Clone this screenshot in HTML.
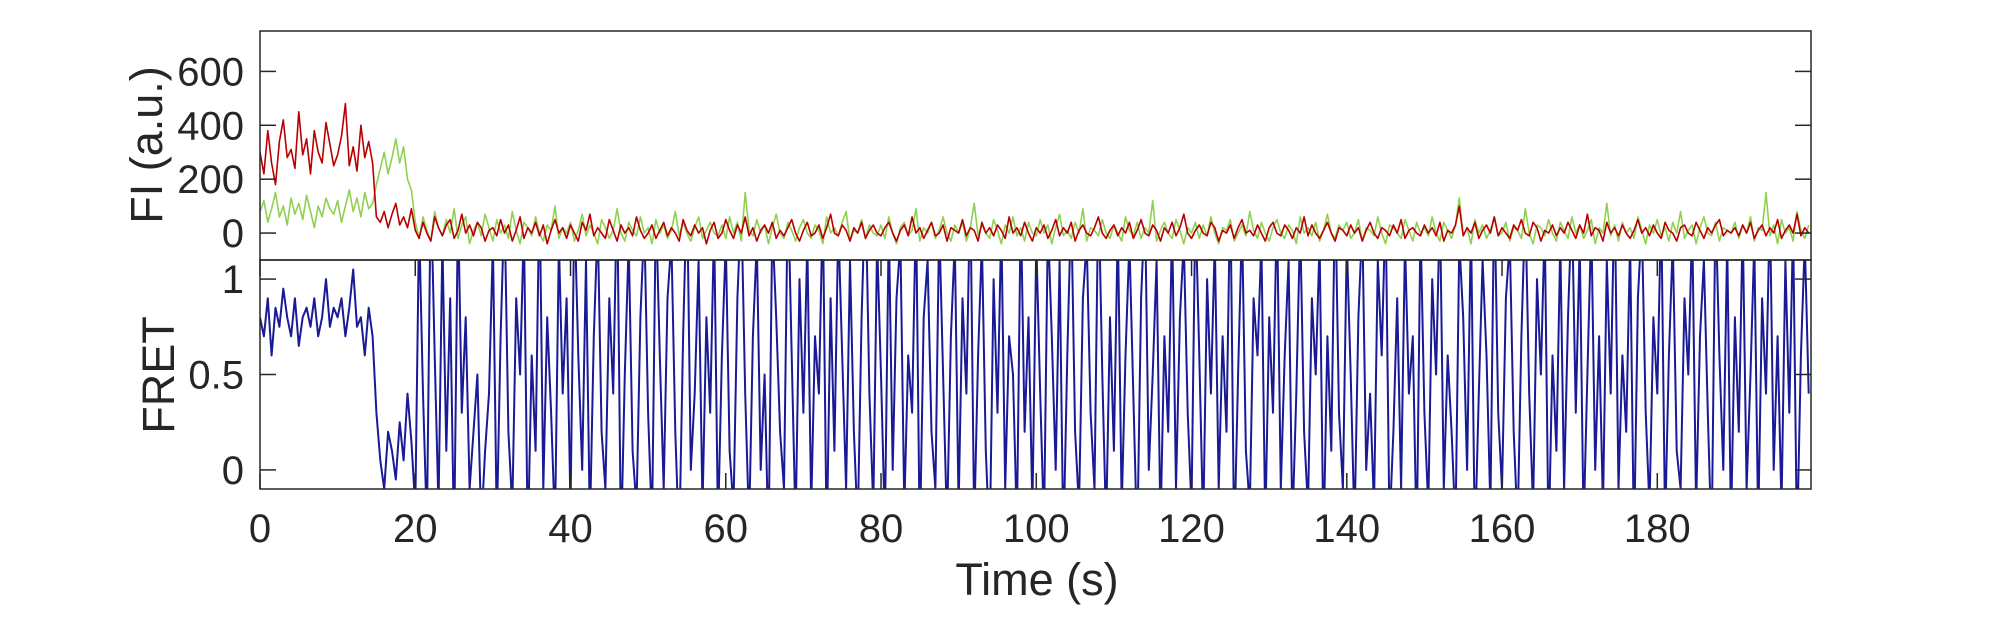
<!DOCTYPE html>
<html><head><meta charset="utf-8"><style>
html,body{margin:0;padding:0;background:#fff;}
svg{display:block;font-family:"Liberation Sans",Arial,sans-serif;}
</style></head><body>
<svg id="chart" width="2005" height="625" viewBox="0 0 2005 625" xmlns="http://www.w3.org/2000/svg">
<defs>
<clipPath id="clipTop"><rect x="260" y="31" width="1551" height="229"/></clipPath>
<clipPath id="clipBot"><rect x="260" y="260" width="1551" height="229"/></clipPath>
</defs>
<g id="marks"></g>
<g id="axes"></g>
</svg>
<script>
const dt = 0.5;
const xTicks = [0,20,40,60,80,100,120,140,160,180];
const fiTicks = [0,200,400,600];
const fretTicks = [0,0.5,1];
const fretTickLabels = ["0","0.5","1"];
const acceptor = [
300,220,380,260,180,340,420,280,310,240,450,290,350,220,380,300,260,410,330,250,
290,360,480,250,320,230,400,280,340,260,60,40,80,20,70,110,30,60,20,90,
10,-20,40,0,-30,60,20,-10,30,50,-20,10,70,0,30,-10,40,20,-30,10,
20,-10,50,0,30,-30,10,60,-20,20,0,40,-10,30,-40,10,50,0,20,-20,
30,0,-30,40,10,70,-10,20,0,-20,50,10,-30,30,0,20,-10,60,10,-20,
0,30,-20,10,40,-10,20,0,-30,50,10,-10,30,0,20,-40,10,40,-20,0,
50,10,-20,30,0,60,-10,20,-30,10,30,0,40,-20,10,-10,20,50,0,-30,
10,40,-10,0,30,-20,20,70,0,-10,30,10,-30,20,0,40,-20,10,30,0,
-10,20,40,0,-30,10,30,-10,60,0,20,-20,10,40,-10,0,30,-30,20,10,
0,50,-10,20,10,-30,40,0,20,-10,30,10,-20,60,0,20,-10,40,0,-30,
20,0,30,-20,10,50,-10,20,0,40,-30,10,30,0,-10,20,60,0,-20,10,
30,-10,20,0,40,-20,10,50,0,-10,30,10,-30,20,0,40,-10,20,70,0,
-20,10,30,0,-10,40,20,-30,10,0,30,-20,20,50,0,10,-10,30,0,-30,
20,40,0,-10,30,10,-20,20,0,60,-10,30,0,-20,10,40,0,-30,20,10,
-10,30,0,20,-30,10,40,0,-20,20,10,-10,30,0,50,-20,10,20,0,-10,
30,0,20,-10,40,-30,10,0,30,100,-10,20,0,40,-20,10,30,0,60,-10,
20,0,-20,30,10,50,0,-10,40,20,-30,10,0,30,-10,20,0,40,10,-20,
30,0,70,-10,20,10,-30,40,0,20,-10,30,0,-20,10,50,0,20,-10,30,
0,-20,40,10,0,-30,20,30,0,-10,40,10,-20,20,0,30,50,-10,10,0,
20,-10,30,0,40,-20,10,30,-10,20,0,50,-20,10,30,0,70,-10,20,0
];
const donor = [
80,120,40,90,150,60,100,30,130,70,110,50,140,80,20,100,60,130,90,70,
120,40,100,160,80,130,60,150,90,110,180,240,300,220,280,350,260,320,200,160,
40,-20,60,10,-30,80,20,-10,50,0,90,-20,30,60,-40,10,40,-10,70,20,
-30,50,0,30,-20,80,10,-40,40,20,-10,60,0,-30,30,10,100,-20,20,0,
40,-30,10,70,-10,30,0,-40,50,20,-20,10,90,0,-30,40,10,-10,60,0,
20,-40,50,0,30,-20,10,80,-10,40,0,-30,20,60,-20,10,40,0,-10,30,
-20,60,0,40,-30,150,10,-10,50,0,30,-40,20,70,0,-20,40,10,-30,20,
50,0,-20,30,10,-40,60,0,20,-10,40,80,-30,10,0,50,-20,30,0,-10,
30,-20,60,0,-40,20,40,-10,10,90,-30,20,0,40,-20,10,60,0,-30,30,
0,40,-30,20,110,-10,30,0,-20,50,10,-40,30,0,60,-10,20,-30,40,0,
-10,50,0,30,-40,20,70,-10,10,-20,40,0,90,-30,20,10,-10,50,0,-20,
30,0,-30,60,10,-10,40,-20,20,0,120,-30,10,40,0,-20,50,10,-40,20,
0,40,-20,30,-10,60,0,-40,20,10,50,-30,0,30,-10,80,10,-20,40,0,
-30,20,50,0,-20,30,10,-40,60,0,20,-10,40,-30,10,70,0,-20,30,10,
40,-20,0,50,-30,20,10,-10,60,0,-40,30,20,0,-20,50,10,-30,40,0,
20,-10,60,0,-30,40,10,-20,30,130,-10,20,-40,50,0,30,-20,10,60,-10,
0,40,-30,20,10,-20,90,0,-40,30,20,-10,50,0,-30,40,10,-20,60,0,
30,-20,10,50,-40,20,0,110,-10,30,-30,40,0,20,-20,60,10,-40,30,0,
50,-10,20,-30,40,0,80,-20,10,30,-40,20,60,0,-10,40,-30,20,10,0,
40,-20,30,0,60,-30,20,10,150,-10,30,-40,50,0,20,-30,80,10,-20,30
];
const fret = [
0.8,0.7,0.9,0.6,0.85,0.75,0.95,0.8,0.7,0.9,0.65,0.8,0.85,0.75,0.9,0.7,0.8,1.0,0.75,0.85,
0.8,0.9,0.7,0.85,1.05,0.75,0.8,0.6,0.85,0.7,0.3,0.05,-0.1,0.2,0.1,-0.05,0.25,0.05,0.4,0.15,
-0.2,1.3,0.4,-0.3,1.5,0.6,-0.2,1.2,0.1,0.9,-0.4,1.4,0.3,0.8,-0.1,0.2,0.5,-0.3,0.1,0.4,
1.2,-0.3,0.7,1.4,0.2,-0.2,0.9,0.5,1.3,-0.4,0.6,0.1,1.5,-0.1,0.8,0.3,-0.3,1.2,0.4,0.9,
-0.2,1.4,0.6,0.0,1.1,-0.3,0.7,1.3,0.2,-0.1,0.9,0.4,1.5,-0.4,0.5,1.2,0.1,-0.2,0.8,1.3,
0.3,-0.3,1.4,0.6,-0.1,0.9,1.2,0.2,-0.4,0.7,1.5,0.0,0.4,1.1,-0.2,0.8,0.3,1.3,-0.3,0.6,
1.2,0.1,-0.2,0.9,1.4,0.4,-0.3,0.7,1.2,0.0,0.5,-0.4,1.3,0.8,0.2,-0.1,1.5,0.6,-0.3,1.0,
0.3,1.2,-0.2,0.7,0.4,1.4,-0.4,0.9,0.1,1.3,0.6,-0.1,1.1,0.2,-0.3,0.8,1.5,0.4,-0.2,1.2,
0.5,-0.3,1.3,0.0,0.9,1.2,-0.2,0.6,0.3,1.4,-0.4,0.8,1.1,0.2,-0.1,1.3,0.5,-0.3,0.7,1.2,
-0.2,0.9,0.4,1.5,-0.3,0.6,1.2,0.1,-0.4,1.0,0.3,1.3,-0.1,0.7,0.5,-0.3,1.4,0.2,0.8,-0.2,
1.2,0.4,-0.3,1.3,0.7,0.0,1.1,-0.4,0.6,1.4,0.2,-0.2,0.9,1.2,0.3,-0.1,1.5,0.5,-0.3,0.8,
0.1,1.3,-0.2,0.6,1.2,0.4,-0.4,0.9,1.4,0.0,0.5,1.1,-0.3,0.7,0.2,1.3,-0.1,0.8,1.2,0.3,
-0.2,1.4,0.6,-0.3,1.0,0.4,1.2,-0.1,0.7,0.2,1.5,-0.4,0.5,1.3,0.1,-0.2,0.9,0.6,1.2,-0.3,
0.8,0.3,1.4,-0.1,0.6,1.1,-0.3,0.4,1.3,0.2,-0.2,0.9,0.5,1.2,-0.4,0.7,0.1,1.5,0.3,-0.1,
1.2,0.5,-0.3,0.8,1.3,0.0,0.4,-0.2,1.1,0.6,1.4,-0.3,0.2,0.9,-0.1,1.2,0.4,0.7,-0.4,1.3,
0.3,-0.2,1.0,0.5,1.4,-0.1,0.6,0.2,-0.3,1.2,0.8,0.0,1.3,-0.4,0.4,1.1,0.6,-0.2,1.5,0.3,
-0.1,0.9,1.2,0.2,-0.3,0.7,1.4,0.4,-0.2,1.0,0.5,1.3,-0.4,0.6,0.1,1.2,-0.1,0.8,1.4,0.3,
1.2,-0.3,0.5,1.3,0.0,0.7,-0.2,1.1,0.4,1.5,-0.1,0.6,0.2,1.2,-0.4,0.9,1.3,0.3,-0.2,0.8,
0.4,1.4,-0.3,0.6,1.2,0.1,-0.1,0.9,0.5,1.3,-0.2,0.7,1.1,0.3,-0.4,1.4,0.6,0.0,1.2,-0.3,
0.8,0.2,1.3,-0.1,0.5,1.2,-0.3,0.9,0.4,1.4,0.0,0.7,-0.2,1.1,0.3,1.3,-0.4,0.6,1.2,0.4
];

const NS = "http://www.w3.org/2000/svg";
const L = 260, R = 1811, T = 31, M = 260, B = 489;
const xMin = 0, xMax = 199.8;
const fiMin = -100, fiMax = 750;
const frMin = -0.1, frMax = 1.1;
function xS(v){ return L + (v - xMin) / (xMax - xMin) * (R - L); }
function yFI(v){ return M - (v - fiMin) / (fiMax - fiMin) * (M - T); }
function yFR(v){ return B - (v - frMin) / (frMax - frMin) * (B - M); }

const marks = document.getElementById('marks');
const axes = document.getElementById('axes');
function mk(tag, attrs, parent){
  const e = document.createElementNS(NS, tag);
  for (const k in attrs) e.setAttribute(k, attrs[k]);
  parent.appendChild(e);
  return e;
}
function line(vals, yf, color, clip, name, w){
  const pts = vals.map((v,i)=> xS(i*dt).toFixed(1) + ',' + yf(v).toFixed(1)).join(' ');
  const p = mk('polyline', {points: pts, fill: 'none', stroke: color, 'stroke-width': w, 'stroke-linejoin': 'round', 'clip-path': 'url(#' + clip + ')'}, marks);
  
  
}
line(donor, yFI, '#8fd14f', 'clipTop', 'donor-intensity-line', 1.6);
line(acceptor, yFI, '#b80000', 'clipTop', 'acceptor-intensity-line', 1.6);
line(fret, yFR, '#1a1a96', 'clipBot', 'fret-line', 2);

const fr1 = mk('rect', {x: L, y: T, width: R-L, height: M-T, fill: 'none', stroke: '#262626', 'stroke-width': 1.5}, axes);


const fr2 = mk('rect', {x: L, y: M, width: R-L, height: B-M, fill: 'none', stroke: '#262626', 'stroke-width': 1.5}, axes);



const TK = 16;
fiTicks.forEach(v=>{
  const y = yFI(v);
  mk('line', {x1: L, x2: L+TK, y1: y, y2: y, stroke: '#262626', 'stroke-width': 1.5}, axes);
  mk('line', {x1: R-TK, x2: R, y1: y, y2: y, stroke: '#262626', 'stroke-width': 1.5}, axes);
  const t = mk('text', {x: 244, y: y + 14, 'text-anchor': 'end', 'font-size': 40, fill: '#262626'}, axes);
  t.textContent = String(v);
  
  
});
fretTicks.forEach((v,i)=>{
  const y = yFR(v);
  mk('line', {x1: L, x2: L+TK, y1: y, y2: y, stroke: '#262626', 'stroke-width': 1.5}, axes);
  mk('line', {x1: R-TK, x2: R, y1: y, y2: y, stroke: '#262626', 'stroke-width': 1.5}, axes);
  const t = mk('text', {x: 244, y: y + 14, 'text-anchor': 'end', 'font-size': 40, fill: '#262626'}, axes);
  t.textContent = fretTickLabels[i];
  
  
});
xTicks.forEach(v=>{
  const x = xS(v);
  [[M, M+TK],[B-TK, B]].forEach(s=>{
    mk('line', {x1: x, x2: x, y1: s[0], y2: s[1], stroke: '#262626', 'stroke-width': 1.5}, axes);
  });
  const t = mk('text', {x: x, y: 542, 'text-anchor': 'middle', 'font-size': 40, fill: '#262626'}, axes);
  t.textContent = String(v);
  
  
});
const xt = mk('text', {x: 1037, y: 595, 'text-anchor': 'middle', 'font-size': 45, fill: '#262626'}, axes);
xt.textContent = 'Time (s)';


const y1 = mk('text', {x: 0, y: 0, 'text-anchor': 'middle', 'font-size': 45, fill: '#262626', transform: 'translate(162,145) rotate(-90)'}, axes);
y1.textContent = 'FI (a.u.)';


const y2 = mk('text', {x: 0, y: 0, 'text-anchor': 'middle', 'font-size': 45, fill: '#262626', transform: 'translate(174,375) rotate(-90)'}, axes);
y2.textContent = 'FRET';


</script>
</body></html>
